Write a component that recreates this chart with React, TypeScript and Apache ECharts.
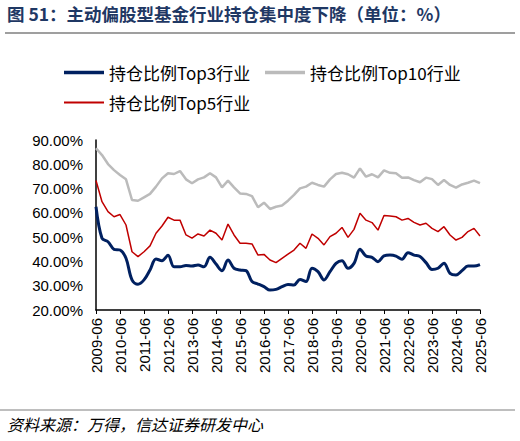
import React, { useEffect, useRef } from "react";
import * as echarts from "echarts";

const categories = [
  "2009-06","2009-09","2009-12","2010-03","2010-06","2010-09","2010-12","2011-03",
  "2011-06","2011-09","2011-12","2012-03","2012-06","2012-09","2012-12","2013-03",
  "2013-06","2013-09","2013-12","2014-03","2014-06","2014-09","2014-12","2015-03",
  "2015-06","2015-09","2015-12","2016-03","2016-06","2016-09","2016-12","2017-03",
  "2017-06","2017-09","2017-12","2018-03","2018-06","2018-09","2018-12","2019-03",
  "2019-06","2019-09","2019-12","2020-03","2020-06","2020-09","2020-12","2021-03",
  "2021-06","2021-09","2021-12","2022-03","2022-06","2022-09","2022-12","2023-03",
  "2023-06","2023-09","2023-12","2024-03","2024-06","2024-09","2024-12","2025-03",
  "2025-06",
];

const top3 = [
  62.5, 49.5, 48.1, 45.0, 44.7, 41.3, 32.4, 30.6,
  32.4, 36.5, 41.0, 40.3, 42.5, 37.8, 37.8, 38.3,
  38.1, 38.5, 37.8, 41.7, 38.9, 36.2, 40.6, 37.2,
  36.5, 36.2, 31.7, 30.7, 29.6, 28.2, 28.5, 29.6,
  30.5, 30.3, 32.6, 31.7, 37.2, 35.8, 32.4, 35.8,
  39.2, 40.3, 37.2, 39.2, 45.0, 42.2, 41.7, 39.9,
  42.3, 42.6, 42.2, 40.9, 43.6, 42.6, 42.0, 39.5,
  36.7, 37.2, 39.2, 35.1, 34.4, 36.2, 38.1, 38.1,
  38.7,
];

const top10 = [
  86.6, 83.8, 80.1, 77.6, 75.6, 73.8, 65.3, 65.0,
  66.4, 67.8, 70.8, 74.2, 76.3, 76.0, 77.2, 73.8,
  72.2, 73.8, 74.6, 76.3, 74.6, 70.5, 73.3, 70.5,
  68.0, 67.8, 66.9, 62.3, 64.2, 61.6, 62.5, 63.0,
  65.0, 67.4, 70.1, 70.8, 72.4, 71.5, 70.8, 73.8,
  76.0, 76.5, 75.9, 74.5, 78.3, 74.9, 75.9, 74.6,
  77.5, 76.5, 76.3, 74.5, 74.6, 73.5, 72.6, 74.5,
  73.9, 71.5, 73.5, 71.5, 70.4, 71.7, 72.4, 73.3,
  72.2,
];

const top5 = [
  73.3, 64.6, 60.5, 58.4, 59.3, 55.0, 44.0, 42.0,
  44.0, 46.4, 51.6, 54.6, 58.2, 57.0, 57.0, 50.9,
  49.6, 51.3, 50.5, 52.9, 51.6, 48.8, 55.4, 50.9,
  47.5, 47.5, 47.2, 42.6, 42.9, 40.6, 39.5, 41.3,
  43.0, 44.7, 47.5, 45.4, 51.3, 49.5, 46.8, 50.2,
  51.6, 54.0, 49.9, 53.2, 59.8, 57.0, 56.0, 52.9,
  58.9, 58.7, 58.4, 57.0, 57.7, 56.1, 55.0, 55.7,
  53.6, 52.3, 54.3, 50.9, 48.8, 49.9, 52.3, 53.6,
  50.5,
];

const yTicks = { min: 20, max: 90, interval: 10 };

const TITLE = "图 51：主动偏股型基金行业持仓集中度下降（单位：%）";
const SOURCE = "资料来源：万得，信达证券研发中心";
const NAMES = ["持仓比例Top3行业", "持仓比例Top10行业", "持仓比例Top5行业"];
const COLORS = ["#002060", "#BBBBBB", "#C00000"];

const CJK = '"Noto Sans CJK SC", "Noto Sans", sans-serif';
const LATIN = '"Liberation Sans", Arial, sans-serif';

const legendBase = {
  orient: "horizontal",
  padding: 0,
  itemWidth: 40,
  icon: "rect",
  selectedMode: false,
  textStyle: { fontSize: 17, color: "#000", fontFamily: CJK },
};

export default function App() {
  const ref = useRef<HTMLDivElement>(null);
  useEffect(() => {
    if (!ref.current) return;
    const chart = echarts.init(ref.current, undefined, { renderer: "svg" });
    chart.setOption({
      animation: false,
      backgroundColor: "#ffffff",
      textStyle: { fontFamily: CJK },
      grid: { left: 96, top: 140, width: 384, height: 170, containLabel: false },
      legend: [
        { ...legendBase, data: [NAMES[0]], left: 64, top: 64, itemHeight: 3.5 },
        { ...legendBase, data: [NAMES[1]], left: 265, top: 64, itemHeight: 3.5 },
        { ...legendBase, data: [NAMES[2]], left: 64, top: 94, itemHeight: 2 },
      ],
      xAxis: {
        type: "category",
        data: categories,
        boundaryGap: false,
        axisLine: { lineStyle: { color: "#000", width: 1.5 } },
        axisTick: { interval: 3, length: 4, lineStyle: { color: "#000" } },
        axisLabel: {
          interval: 3,
          rotate: 90,
          fontSize: 15,
          color: "#000",
          fontFamily: LATIN,
          margin: 8,
        },
        splitLine: { show: false },
      },
      yAxis: {
        type: "value",
        min: yTicks.min,
        max: yTicks.max,
        interval: yTicks.interval,
        axisLine: { show: true, lineStyle: { color: "#000", width: 1.5 } },
        axisTick: { show: false },
        splitLine: { show: false },
        axisLabel: {
          fontSize: 15,
          color: "#000",
          fontFamily: LATIN,
          margin: 13,
          formatter: (v: number) => v.toFixed(2) + "%",
        },
      },
      series: [
        {
          name: NAMES[0],
          type: "line",
          data: top3,
          symbol: "none",
          smooth: 0.35,
          z: 3,
          lineStyle: { color: COLORS[0], width: 3 },
          itemStyle: { color: COLORS[0] },
        },
        {
          name: NAMES[1],
          type: "line",
          data: top10,
          symbol: "none",
          z: 2,
          lineStyle: { color: COLORS[1], width: 2.5 },
          itemStyle: { color: COLORS[1] },
        },
        {
          name: NAMES[2],
          type: "line",
          data: top5,
          symbol: "none",
          z: 2,
          lineStyle: { color: COLORS[2], width: 1.5 },
          itemStyle: { color: COLORS[2] },
        },
      ],
      graphic: [
        {
          type: "text",
          left: 7,
          top: 5,
          style: {
            text: TITLE,
            fontSize: 17.5,
            fontWeight: "bold",
            fill: "#1F3864",
            fontFamily: CJK,
          },
        },
        {
          type: "line",
          shape: { x1: 5, y1: 33, x2: 515, y2: 33 },
          style: { stroke: "#7F7F7F", lineWidth: 1.5 },
        },
        {
          type: "line",
          shape: { x1: 0, y1: 410, x2: 515, y2: 410 },
          style: { stroke: "#7F7F7F", lineWidth: 1.2 },
        },
        {
          type: "text",
          left: 7,
          top: 416,
          style: {
            text: SOURCE,
            fontSize: 16,
            fontStyle: "italic",
            fill: "#000",
            fontFamily: CJK,
          },
        },
      ],
    });
    return () => chart.dispose();
  }, []);
  return (
    <div
      ref={ref}
      style={{ position: "fixed", left: 0, top: 0, width: 520, height: 441 }}
    />
  );
}
